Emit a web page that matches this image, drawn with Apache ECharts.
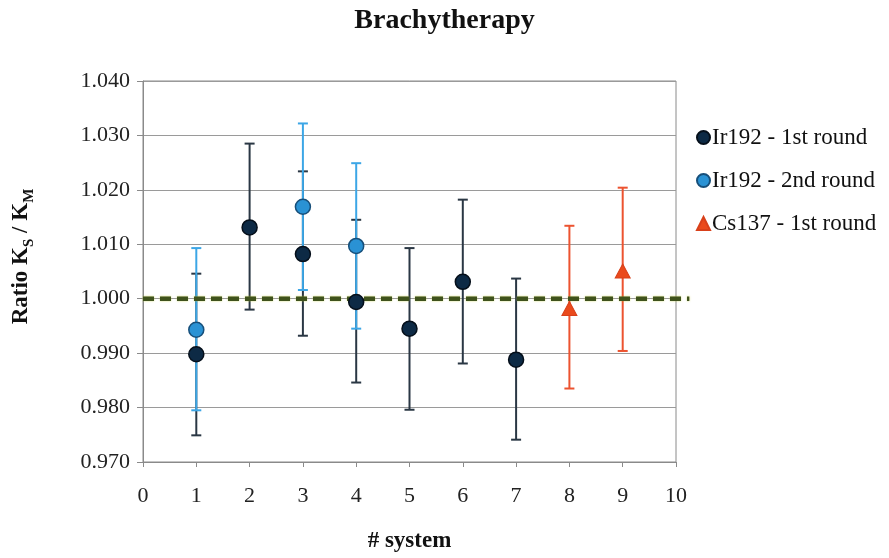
<!DOCTYPE html>
<html>
<head>
<meta charset="utf-8">
<script src="https://cdn.jsdelivr.net/npm/echarts@6/dist/echarts.min.js"></script>
<style>html,body{margin:0;padding:0;background:#fff;}#c{width:889px;height:558px;}</style>
</head>
<body>
<div id="c"></div>
<script>
// ---- data ----
const xTicks = [0,1,2,3,4,5,6,7,8,9,10];
const ir1X = [1, 2, 3, 4, 5, 6, 7];
const ir1Y = [0.9898, 1.0131, 1.0082, 0.9994, 0.9945, 1.0031, 0.9888];
const ir1Lo = [0.9749, 0.9980, 0.9932, 0.9846, 0.9796, 0.9881, 0.9741];
const ir1Hi = [1.0046, 1.0285, 1.0234, 1.0145, 1.0093, 1.0182, 1.0037];

const ir2X = [1, 3, 4];
const ir2Y = [0.9943, 1.0169, 1.0097];
const ir2Lo = [0.9795, 1.0016, 0.9945];
const ir2Hi = [1.0093, 1.0322, 1.0249];

const csX = [8, 9];
const csY = [0.9982, 1.0051];
const csLo = [0.9835, 0.9904];
const csHi = [1.0134, 1.0204];

const refX = [0, 10.25];
const refY = [1.0, 1.0];

const names = ['Ir192 - 1st round', 'Ir192 - 2nd round', 'Cs137 - 1st round'];

// ---- helpers ----
const FONT = 'Liberation Serif';
function zip(xs, ys) { return xs.map((x, i) => [x, ys[i]]); }
function errData(xs, lo, hi) { return xs.map((x, i) => [x, lo[i], hi[i]]); }
function errSeries(data, color, z) {
  return {
    type: 'custom',
    z: z,
    silent: true,
    data: data,
    encode: { x: 0, y: [1, 2] },
    renderItem: function (params, api) {
      const x = api.value(0);
      const p1 = api.coord([x, api.value(1)]);
      const p2 = api.coord([x, api.value(2)]);
      const w = 5;
      const st = { stroke: color, lineWidth: 2 };
      return {
        type: 'group',
        children: [
          { type: 'line', shape: { x1: p1[0], y1: p1[1], x2: p2[0], y2: p2[1] }, style: st },
          { type: 'line', shape: { x1: p1[0] - w, y1: p1[1], x2: p1[0] + w, y2: p1[1] }, style: st },
          { type: 'line', shape: { x1: p2[0] - w, y1: p2[1], x2: p2[0] + w, y2: p2[1] }, style: st }
        ]
      };
    }
  };
}

const chart = echarts.init(document.getElementById('c'), null, { renderer: 'canvas' });
chart.setOption({
  animation: false,
  backgroundColor: '#fff',
  title: {
    text: 'Brachytherapy',
    left: 'center',
    top: 2,
    textStyle: { fontFamily: FONT, fontWeight: 'bold', fontSize: 28, color: '#111' }
  },
  legend: {
    orient: 'vertical',
    left: 691,
    top: 121,
    itemGap: 20,
    itemWidth: 13,
    itemHeight: 13,
    data: [
      { name: names[0], icon: 'circle' },
      { name: names[1], icon: 'circle' },
      { name: names[2], icon: 'triangle' }
    ],
    textStyle: { fontFamily: FONT, fontSize: 23, color: '#111', padding: [0, 0, 0, -3] }
  },
  grid: {
    left: 143, right: 213, top: 81, bottom: 94,
    show: true, borderColor: '#8a8a8a', borderWidth: 1
  },
  xAxis: {
    type: 'value',
    min: 0, max: 10, interval: 1,
    name: '# system',
    nameLocation: 'middle',
    nameGap: 68,
    nameTextStyle: { fontFamily: FONT, fontWeight: 'bold', fontSize: 23, color: '#111' },
    axisLine: { onZero: false, lineStyle: { color: '#8a8a8a', width: 1 } },
    axisTick: { show: true, inside: false, length: 5, lineStyle: { color: '#8a8a8a' } },
    axisLabel: { fontFamily: FONT, fontSize: 22, color: '#222', margin: 23,
      formatter: function (v) { return xTicks.indexOf(v) >= 0 ? String(v) : ''; } },
    splitLine: { show: false }
  },
  yAxis: {
    type: 'value',
    min: 0.97, max: 1.04, interval: 0.01,
    name: '{b|Ratio K}{s|S}{b| / K}{s|M}',
    nameLocation: 'middle',
    nameRotate: 90,
    nameGap: 106,
    nameTextStyle: {
      fontFamily: FONT, fontWeight: 'bold', color: '#111',
      padding: [0, 0, 0, 30],
      rich: {
        b: { fontFamily: FONT, fontWeight: 'bold', fontSize: 23, color: '#111', lineHeight: 25, verticalAlign: 'bottom', padding: [0, 0, 4, 0] },
        s: { fontFamily: FONT, fontWeight: 'bold', fontSize: 15, color: '#111', lineHeight: 16, verticalAlign: 'bottom' }
      }
    },
    axisLine: { show: true, lineStyle: { color: '#8a8a8a', width: 1 } },
    axisTick: { show: true, inside: false, length: 6, lineStyle: { color: '#8a8a8a' } },
    axisLabel: { fontFamily: FONT, fontSize: 22, color: '#222', margin: 13,
      formatter: function (v) { return v.toFixed(3); } },
    splitLine: { show: true, lineStyle: { color: '#9a9a9a', width: 1.2 } }
  },
  series: [
    errSeries(errData(ir1X, ir1Lo, ir1Hi), '#2a3744', 2),
    errSeries(errData(ir2X, ir2Lo, ir2Hi), '#3ca6e6', 3),
    errSeries(errData(csX, csLo, csHi), '#ec5330', 3),
    {
      type: 'custom',
      z: 4,
      silent: true,
      clip: false,
      data: [zip(refX, refY)[0]],
      renderItem: function (params, api) {
        const pts = zip(refX, refY).map(p => api.coord(p));
        return {
          type: 'line',
          shape: { x1: pts[0][0], y1: pts[0][1], x2: pts[1][0], y2: pts[1][1] },
          style: { stroke: '#3f521c', lineWidth: 4.5, lineDash: [11, 6], shadowColor: 'rgba(190,200,40,0.7)', shadowBlur: 2 }
        };
      }
    },
    {
      name: names[0], type: 'scatter', z: 6,
      data: zip(ir1X, ir1Y),
      symbol: 'circle', symbolSize: 15,
      itemStyle: { color: '#0d2a45', borderColor: '#050f1a', borderWidth: 1.5, opacity: 1 }
    },
    {
      name: names[1], type: 'scatter', z: 5,
      data: zip(ir2X, ir2Y),
      symbol: 'circle', symbolSize: 15,
      itemStyle: { color: '#2a92d4', borderColor: '#174f7a', borderWidth: 1.5, opacity: 1 }
    },
    {
      name: names[2], type: 'scatter', z: 5,
      data: zip(csX, csY),
      symbol: 'triangle', symbolSize: [15, 14],
      itemStyle: { color: '#ea4a1c', borderColor: '#d8401a', borderWidth: 1, opacity: 1 }
    }
  ]
});
</script>
</body>
</html>
